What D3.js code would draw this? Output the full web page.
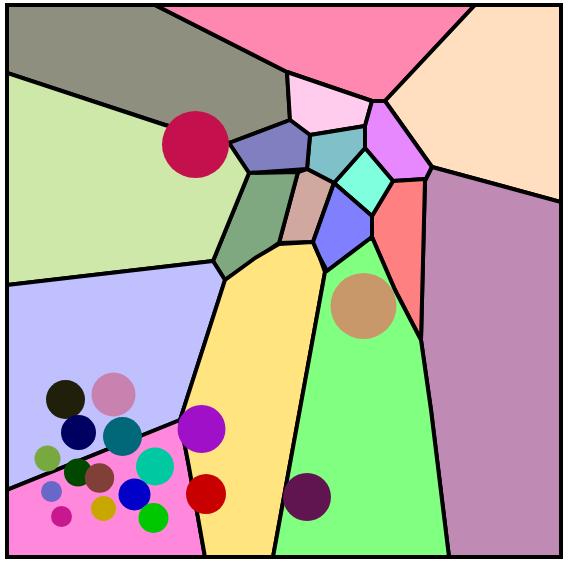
<!DOCTYPE html>
<html><head><meta charset="utf-8">
<script src="https://cdn.jsdelivr.net/npm/d3@7"></script>
<style>html,body{margin:0;padding:0;background:#fff}svg{display:block}</style>
</head><body>
<svg id="chart" width="572" height="569"></svg>
<script>
// ---- data (plane units: x 0..554, y 0..552) ----
const cellNames = ["gray","pink","peach","lightpink","violet","mauve","salmon","aquamarine","tealblue","slate","rose","sage","lightgreen","lavender","hotpink","yellow","periwinkle","green"];
const cellColors = ["#8f8f80","#ff88b0","#ffdfc0","#ffccee","#e888ff","#bf8bb4","#ff8080","#80ffdf","#80c0c8","#8080c0","#d0a8a0","#80a880","#cde8a8","#c0c0ff","#ff88dd","#ffe480","#8080ff","#80ff80"];
const cellPolygons = [
  [[0,0],[148,0],[280,67],[283,115],[222,138],[158,120],[0,68]],
  [[148,0],[468,0],[378,96],[365,96],[280,67]],
  [[468,0],[554,0],[554,197],[425,162],[378,96]],
  [[280,67],[365,96],[358,121],[303,130],[283,115]],
  [[365,96],[378,96],[425,162],[419,174],[386,176],[358,143],[358,121]],
  [[425,162],[554,197],[554,552],[442,552],[424,405],[414,335],[418,175],[419,174]],
  [[386,176],[419,174],[418,175],[414,335],[388,285],[365,232],[365,211]],
  [[358,143],[386,176],[365,211],[327,178]],
  [[303,130],[358,121],[358,143],[327,178],[300,164]],
  [[222,138],[283,115],[303,130],[300,164],[242,168]],
  [[291,167],[300,164],[327,178],[306,237],[272,238]],
  [[242,168],[291,167],[272,238],[218,275],[206,256]],
  [[0,68],[158,120],[222,138],[242,168],[206,256],[0,280]],
  [[0,280],[206,256],[218,275],[173,415],[0,485]],
  [[0,485],[173,415],[182,462],[198,552],[0,552]],
  [[218,275],[248,253],[272,239],[306,237],[313,253],[318,267],[266,552],[198,552],[182,462],[173,415]],
  [[327,178],[365,211],[365,232],[320,266],[313,253],[306,237]],
  [[320,266],[365,232],[388,285],[414,335],[424,405],[442,552],[266,552],[318,267]]
];
const circleX = [188.5,356.5,194.5,199,300,58.5,106.5,71.5,115.5,40.5,71,92.5,148,44.5,127.5,96.5,54.5,146.5];
const circleY = [139.5,301,424,489,492,394.5,389.5,427.5,431.5,453.5,467.5,473,461.5,486.5,489.5,503.5,511.5,513];
const circleR = [33.5,33,24,20,24,19.5,22,17.5,19.5,13,14,14.7,19,10.5,16,12.5,10.5,15];
const circleColors = ["#c4104c","#c8986a","#a010c8","#c80000","#601450","#1f1f0a","#c882b0","#000060","#006878","#78a840","#004800","#804038","#00c8a0","#6868c8","#0000c8","#c8a800","#c81890","#00c800"];

// ---- drawing ----
const x = d3.scaleLinear().domain([0,554]).range([7,561]);
const y = d3.scaleLinear().domain([0,552]).range([5,557]);
const svg = d3.select("#chart");

svg.append("defs").append("clipPath").attr("id","frame")
  .append("rect").attr("x",x(0)).attr("y",y(0)).attr("width",x(554)-x(0)).attr("height",y(552)-y(0));

const line = d3.line().x(d=>x(d[0])).y(d=>y(d[1])).curve(d3.curveLinearClosed);

svg.append("g").attr("clip-path","url(#frame)")
  .selectAll("path").data(cellPolygons).join("path")
  .attr("d", d=>line(d))
  .attr("fill",(d,i)=>cellColors[i])
  .attr("stroke","#000").attr("stroke-width",4).attr("stroke-linejoin","round");

svg.append("rect").attr("x",x(0)).attr("y",y(0)).attr("width",x(554)-x(0)).attr("height",y(552)-y(0))
  .attr("fill","none").attr("stroke","#000").attr("stroke-width",4);

const circles = circleX.map((cx,i)=>({cx, cy:circleY[i], r:circleR[i], c:circleColors[i]}));
svg.append("g").selectAll("circle").data(circles).join("circle")
  .attr("cx",d=>x(d.cx)).attr("cy",d=>y(d.cy)).attr("r",d=>x(d.r)-x(0))
  .attr("fill",d=>d.c);
</script>
</body></html>
